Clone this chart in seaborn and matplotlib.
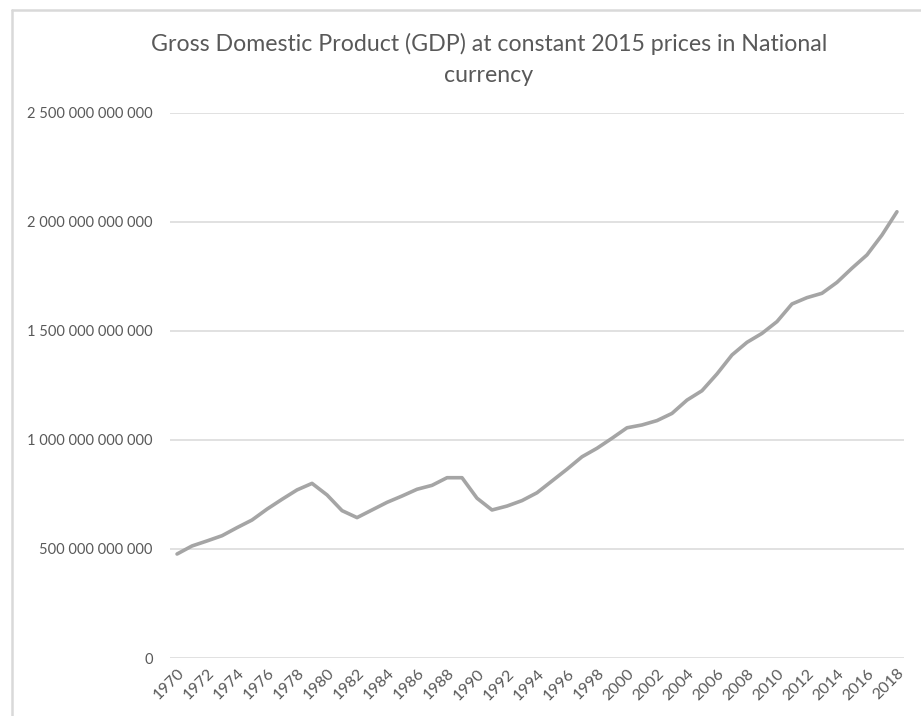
import matplotlib
matplotlib.use("Agg")
import matplotlib.pyplot as plt
import numpy as np
import pandas as pd
import seaborn as sns
from matplotlib.lines import Line2D
from matplotlib.ticker import FuncFormatter

# %%
years = list(range(1970, 2019))

# GDP values in billions
gdp_bn = [
    477, 514, 537, 561, 598, 633, 683, 728, 771, 801,
    748, 676, 644, 679, 714, 743, 774, 792, 827, 827,
    733, 679, 697, 722, 758, 812, 866, 923, 962, 1008,
    1056, 1069, 1089, 1122, 1183, 1226, 1303, 1390, 1448, 1489,
    1543, 1624, 1653, 1673, 1723, 1788, 1849, 1940, 2047,
]

title = "Gross Domestic Product (GDP) at constant 2015 prices in National\ncurrency"

df = pd.DataFrame({"year": years, "gdp": np.array(gdp_bn) * 1e9})

# %%
sns.set_theme(style="white")
plt.rcParams["font.family"] = ["Lato", "DejaVu Sans"]

text_grey = "#595959"
grid_grey = "#D9D9D9"

fig = plt.figure(figsize=(9.21, 7.16), dpi=100)
ax = fig.add_axes([170 / 921, 1 - 658 / 716, (904 - 170) / 921, (658 - 113) / 716])

sns.lineplot(data=df, x="year", y="gdp", color="#A5A5A5", linewidth=2.6, ax=ax)

ax.set_xlim(1969.53, 2018.47)
ax.set_ylim(0, 2.5e12)
ax.set_yticks(np.arange(0, 2.5e12 + 1, 5e11))
ax.yaxis.set_major_formatter(FuncFormatter(lambda v, _: f"{v:,.0f}".replace(",", " ")))
ax.set_xticks(years[::2])
ax.set_xticklabels([str(y) for y in years[::2]], rotation=45, ha="right",
                   va="top", rotation_mode="anchor")

ax.grid(axis="y", color=grid_grey, linewidth=1.1)
ax.set_axisbelow(True)
sns.despine(ax=ax, left=True, bottom=True)
ax.tick_params(axis="both", length=0, labelcolor=text_grey)
ax.tick_params(axis="y", pad=12.5, labelsize=10.5)
ax.tick_params(axis="x", pad=6, labelsize=11.5)
ax.set_xlabel("")
ax.set_ylabel("")

fig.text(0.5 * (148 + 830) / 921, 1 - 59.5 / 716, title, ha="center", va="center",
         fontsize=16.7, color=text_grey, linespacing=1.55)

# chart frame (cropped at right and bottom)
fig.add_artist(Line2D([12 / 921, 12 / 921], [0, 1 - 10 / 716], color=grid_grey, linewidth=1.8))
fig.add_artist(Line2D([12 / 921, 1], [1 - 10 / 716, 1 - 10 / 716], color=grid_grey, linewidth=1.8))

fig.savefig("out.png", dpi=100)
